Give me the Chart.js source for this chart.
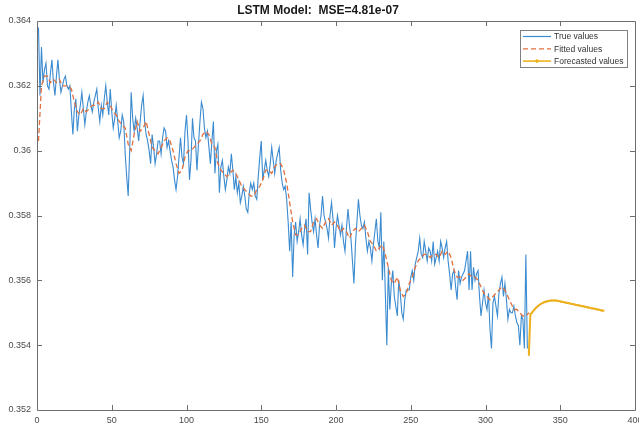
<!DOCTYPE html>
<html><head><meta charset="utf-8">
<script src="https://cdn.jsdelivr.net/npm/chart.js@4.4.0/dist/chart.umd.min.js"></script>
<style>html,body{margin:0;padding:0;background:#fff;} #c{display:block;}</style>
</head><body>
<canvas id="c" width="639" height="429"></canvas>
<script>
const titleText = 'LSTM Model:  MSE=4.81e-07';
const seriesNames = ['True values', 'Fitted values', 'Forecasted values'];
const xTicks = [0, 50, 100, 150, 200, 250, 300, 350, 400];
const yTicks = [0.352, 0.354, 0.356, 0.358, 0.36, 0.362, 0.364];

const trueStart = 1;
const trueValues = [
0.3638,0.3617,0.3632,0.3621,0.3625,0.3627,0.3620,0.3619,0.3624,0.3628,
0.3621,0.3617,0.3623,0.3628,0.3622,0.3618,0.3620,0.3622,0.3623,0.3620,
0.3619,0.3620,0.3612,0.3605,0.3613,0.3616,0.3606,0.3611,0.3614,0.3618,
0.3613,0.3608,0.3612,0.3615,0.3617,0.3614,0.3612,0.3615,0.3617,0.3619,
0.3613,0.3609,0.3614,0.3611,0.3616,0.3620,0.3615,0.3611,0.3619,0.3612,
0.3607,0.3610,0.3614,0.3609,0.3604,0.3606,0.3611,0.3609,0.3599,0.3592,
0.3586,0.3600,0.3618,0.3610,0.3606,0.3610,0.3607,0.3603,0.3609,0.3614,
0.3617,0.3609,0.3605,0.3603,0.3600,0.3596,0.3605,0.3601,0.3596,0.3599,
0.3603,0.3603,0.3599,0.3604,0.3607,0.3606,0.3601,0.3603,0.3600,0.3597,
0.3595,0.3591,0.3588,0.3592,0.3598,0.3604,0.3598,0.3596,0.3606,0.3611,
0.3603,0.3591,0.3597,0.3610,0.3604,0.3603,0.3594,0.3602,0.3609,0.3615,
0.3613,0.3607,0.3604,0.3606,0.3601,0.3596,0.3603,0.3609,0.3593,0.3600,
0.3602,0.3587,0.3595,0.3597,0.3592,0.3588,0.3591,0.3595,0.3593,0.3599,
0.3594,0.3588,0.3592,0.3587,0.3590,0.3584,0.3586,0.3589,0.3586,
0.3582,0.3581,0.3587,0.3590,0.3588,0.3590,0.3586,0.3585,0.3592,0.3598,
0.3603,0.3591,0.3594,0.3597,0.3594,0.3592,0.3596,0.3601,0.3597,0.3593,
0.3597,0.3599,0.3601,0.3594,0.3590,0.3588,0.3589,0.3585,0.3578,0.3569,
0.3578,0.3561,0.3574,0.3578,0.3572,0.3575,0.3579,0.3574,0.3571,0.3576,
0.3579,0.3568,0.3587,0.3582,0.3578,0.3575,0.3579,0.3574,0.3570,0.3577,
0.3580,0.3586,0.3580,0.3578,0.3576,0.3573,0.3580,0.3584,0.3579,0.3570,
0.3576,0.3580,0.3577,0.3574,0.3577,0.3572,0.3569,0.3576,0.3582,0.3577,
0.3573,0.3566,0.3559,0.3571,0.3578,0.3585,0.3580,0.3577,0.3576,0.3578,
0.3573,0.3569,0.3572,0.3570,0.3566,0.3571,0.3575,0.3579,0.3572,
0.3570,0.3581,0.3560,0.3572,0.3556,0.3540,0.3564,0.3551,0.3559,0.3563,
0.3555,0.3552,0.3549,0.3560,0.3556,0.3550,0.3548,0.3554,0.3557,0.3557,
0.3557,0.3561,0.3563,0.3560,0.3565,0.3567,0.3569,0.3573,0.3568,0.3567,
0.3572,0.3569,0.3566,0.3570,0.3569,0.3566,0.3572,0.3565,0.3567,0.3569,
0.3566,0.3572,0.3570,0.3567,0.3570,0.3572,0.3566,0.3562,0.3557,0.3562,
0.3563,0.3558,0.3554,0.3563,0.3559,0.3561,0.3562,0.3563,0.3566,0.3569,
0.3557,0.3569,0.3557,0.3564,0.3560,0.3562,0.3563,0.3555,0.3549,0.3553,
0.3557,0.3553,0.3551,0.3556,0.3545,0.3539,0.3553,0.3555,0.3552,
0.3549,0.3556,0.3559,0.3561,0.3555,0.3559,0.3554,0.3548,0.3551,0.3550,
0.3550,0.3552,0.3549,0.3547,0.3546,0.3540,0.3549,0.3548,0.3539,0.3568,0.3539
];

const fittedStart = 1;
const fittedStep = 2;
const fittedValues = [
0.3603,0.3620,0.3623,0.3623,0.3621,0.3622,0.3621,0.3622,0.3620,0.3620,
0.3620,0.3619,0.3615,0.3612,0.3611,0.3613,0.3612,0.3613,0.3614,0.3614,
0.3615,0.3613,0.3613,0.3615,0.3614,0.3612,0.3611,0.3609,0.3608,0.3607,
0.3602,0.3600,0.3605,0.3609,0.3606,0.3607,0.3609,0.3605,0.3601,0.3600,
0.3599,0.3601,0.3603,0.3604,0.3603,0.3600,0.3596,0.3593,0.3594,0.3598,
0.3600,0.3600,0.3601,0.3602,0.3603,0.3605,0.3606,0.3605,0.3602,0.3601,
0.3596,0.3594,0.3593,0.3592,0.3593,0.3594,0.3593,0.3591,0.3589,0.3588,
0.3587,0.3586,0.3586,0.3588,0.3589,0.3591,0.3594,0.3594,0.3593,0.3595,
0.3596,0.3596,0.3594,0.3590,0.3584,0.3578,0.3574,0.3574,0.3576,0.3577,
0.3575,0.3575,0.3578,0.3579,0.3577,0.3576,0.3578,0.3579,0.3577,0.3578,
0.3577,0.3575,0.3576,0.3575,0.3573,0.3575,0.3576,0.3575,0.3576,
0.3577,0.3575,0.3572,0.3571,0.3569,0.3570,0.3571,0.3568,0.3564,0.3560,
0.3559,0.3561,0.3557,0.3555,0.3556,0.3559,0.3561,0.3564,0.3566,0.3567,
0.3568,0.3568,0.3567,0.3568,0.3568,0.3567,0.3569,0.3568,0.3569,0.3567,
0.3563,0.3561,0.3561,0.3560,0.3561,0.3562,0.3561,0.3561,0.3560,0.3558,
0.3556,0.3555,0.3554,0.3555,0.3556,0.3557,0.3558,0.3557,0.3555,0.3553,
0.3551,0.3551,0.3550,0.3549,0.3549,0.3550
];

const forecastStart = 329;
const forecastValues = [
0.3537,0.35495,0.3550,0.35506,0.35511,0.35516,0.3552,0.35524,0.35527,0.3553,
0.35532,0.35534,0.35535,0.35536,0.35537,0.35538,0.35538,0.35538,0.35538,0.35537,
0.35536,0.35535,0.35534,0.35533,0.35532,0.35531,0.3553,0.35529,0.35528,0.35527,
0.35526,0.35525,0.35524,0.35523,0.35522,0.35521,0.3552,0.35519,0.35518,0.35517,
0.35516,0.35515,0.35514,0.35513,0.35512,0.35511,0.3551,0.35509,0.35508,0.35507,0.35506
];

const colors = { trueC: '#3b8bd0', fitC: '#e0703f', fcC: '#edb120', axis: '#6e6e6e', text: '#4a4a4a' };

const toXY = (vals, start, step) => vals.map((v, i) => ({ x: start + i * step, y: v }));

const fmtY = v => { let s = Number(v).toFixed(3); s = s.replace(/0+$/, '').replace(/\.$/, ''); return s; };

const framePlugin = {
  id: 'frame',
  afterDatasetsDraw(chart) {
    const { ctx, chartArea: a, scales } = chart;
    ctx.save();
    ctx.strokeStyle = colors.axis;
    ctx.lineWidth = 1;
    ctx.beginPath();
    ctx.rect(Math.round(a.left) + 0.5, Math.round(a.top) + 0.5, Math.round(a.right - a.left), Math.round(a.bottom - a.top));
    ctx.stroke();
    const tl = 5;
    ctx.beginPath();
    xTicks.forEach(v => {
      if (v === xTicks[0] || v === xTicks[xTicks.length - 1]) return;
      const px = Math.round(scales.x.getPixelForValue(v)) + 0.5;
      ctx.moveTo(px, a.bottom); ctx.lineTo(px, a.bottom - tl);
      ctx.moveTo(px, a.top); ctx.lineTo(px, a.top + tl);
    });
    yTicks.forEach(v => {
      if (v === yTicks[0] || v === yTicks[yTicks.length - 1]) return;
      const py = Math.round(scales.y.getPixelForValue(v)) + 0.5;
      ctx.moveTo(a.left, py); ctx.lineTo(a.left + tl, py);
      ctx.moveTo(a.right, py); ctx.lineTo(a.right - tl, py);
    });
    ctx.stroke();
    ctx.restore();
  }
};

const legendPlugin = {
  id: 'boxLegend',
  afterDraw(chart) {
    const { ctx, chartArea: a } = chart;
    const bx = a.right - 115, by = a.top + 9, bw = 107, bh = 37;
    ctx.save();
    ctx.fillStyle = '#fff';
    ctx.fillRect(bx, by, bw, bh);
    ctx.strokeStyle = '#808080';
    ctx.lineWidth = 1;
    ctx.strokeRect(Math.round(bx) + 0.5, Math.round(by) + 0.5, bw, bh);
    const styles = [
      { c: colors.trueC, dash: [], w: 1.2, dot: false },
      { c: colors.fitC, dash: [5, 3], w: 1.2, dot: false },
      { c: colors.fcC, dash: [], w: 1.6, dot: true }
    ];
    ctx.font = '8.5px "Liberation Sans", Arial, sans-serif';
    ctx.textBaseline = 'middle';
    ctx.fillStyle = '#333';
    seriesNames.forEach((name, i) => {
      const y = by + 6.5 + i * 12.3;
      const s = styles[i];
      ctx.strokeStyle = s.c; ctx.lineWidth = s.w; ctx.setLineDash(s.dash);
      ctx.beginPath(); ctx.moveTo(bx + 3, y); ctx.lineTo(bx + 31, y); ctx.stroke();
      ctx.setLineDash([]);
      if (s.dot) { ctx.fillStyle = s.c; ctx.beginPath(); ctx.arc(bx + 17, y, 1.8, 0, Math.PI * 2); ctx.fill(); }
      ctx.fillStyle = '#333';
      ctx.fillText(name, bx + 34, y + 0.5);
    });
    ctx.restore();
  }
};

new Chart(document.getElementById('c'), {
  type: 'line',
  data: {
    datasets: [
      { label: seriesNames[0], data: toXY(trueValues, trueStart, 1), borderColor: colors.trueC, borderWidth: 1.1, pointRadius: 0, tension: 0, order: 2 },
      { label: seriesNames[1], data: toXY(fittedValues, fittedStart, fittedStep), borderColor: colors.fitC, borderWidth: 1.3, borderDash: [5, 3], pointRadius: 0, tension: 0, order: 1 },
      { label: seriesNames[2], data: toXY(forecastValues, forecastStart, 1), borderColor: colors.fcC, backgroundColor: colors.fcC, borderWidth: 2, pointRadius: 1, pointBorderWidth: 0, tension: 0, order: 0 }
    ]
  },
  options: {
    responsive: false,
    animation: false,
    devicePixelRatio: 1,
    layout: { padding: { left: 0, right: 3, top: 0, bottom: 0 } },
    plugins: {
      legend: { display: false },
      tooltip: { enabled: false },
      title: {
        display: true, text: titleText, color: '#1a1a1a',
        font: { family: '"Liberation Sans", Arial, sans-serif', size: 12, weight: 'bold', lineHeight: 1.25 },
        padding: { top: 3, bottom: 3 }
      }
    },
    scales: {
      x: {
        type: 'linear', min: 0, max: 400,
        afterBuildTicks: s => { s.ticks = xTicks.map(v => ({ value: v })); },
        afterFit: s => { s.height = 19; s.paddingRight = 0; s.paddingLeft = 0; },
        grid: { display: false, drawTicks: false },
        border: { display: false },
        ticks: { color: colors.text, padding: 5, maxRotation: 0, autoSkip: false, font: { family: '"Liberation Sans", Arial, sans-serif', size: 9 } }
      },
      y: {
        type: 'linear', min: 0.352, max: 0.364,
        afterBuildTicks: s => { s.ticks = yTicks.map(v => ({ value: v })); },
        afterFit: s => { s.width = 37; s.paddingTop = 0; s.paddingBottom = 0; },
        grid: { display: false, drawTicks: false },
        border: { display: false },
        ticks: { color: colors.text, padding: 6, autoSkip: false, callback: v => fmtY(v), font: { family: '"Liberation Sans", Arial, sans-serif', size: 9 } }
      }
    }
  },
  plugins: [framePlugin, legendPlugin]
});
</script>
</body></html>
